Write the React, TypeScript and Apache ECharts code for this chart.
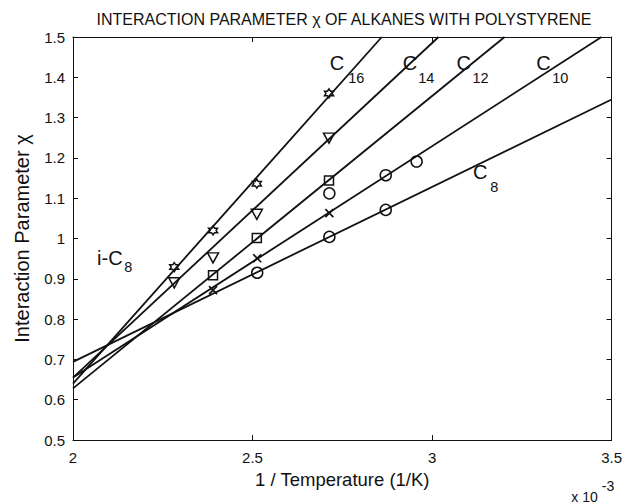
import React, { useEffect, useRef } from "react";
import * as echarts from "echarts";

// ---------- data ----------
// fitted straight lines (two end points each) [1/T x1e3, chi]
const c16Line = [[2.0, 0.640], [2.860, 1.5]];
const c14Line = [[2.0, 0.655], [3.018, 1.5]];
const c12Line = [[2.0, 0.628], [3.202, 1.5]];
const c10Line = [[2.0, 0.655], [3.472, 1.5]];
const c8Line = [[2.0, 0.694], [3.5, 1.345]];

// measured points
const starPts = [[2.282, 0.929], [2.390, 1.020], [2.512, 1.136], [2.713, 1.360]];
const trianglePts = [[2.282, 0.890], [2.390, 0.952], [2.512, 1.060], [2.713, 1.249]];
const squarePts = [[2.390, 0.909], [2.512, 1.001], [2.713, 1.144]];
const crossPts = [[2.390, 0.872], [2.513, 0.951], [2.714, 1.063]];
const c10CirclePts = [[2.871, 1.157], [2.957, 1.191], [2.714, 1.112]];
const c8CirclePts = [[2.513, 0.915], [2.714, 1.004], [2.871, 1.071]];

// curve labels
const curveLabels = ["C", "C", "C", "C", "C", "i-C"];
const curveLabelAt = [[2.735, 1.436], [2.9385, 1.436], [3.088, 1.436], [3.31, 1.436], [3.134, 1.164], [2.1026, 0.952]];
const curveSubs = ["16", "14", "12", "10", "8", "8"];
const curveSubAt = [[2.789, 1.398], [2.984, 1.398], [3.135, 1.398], [3.357, 1.398], [3.173, 1.128], [2.154, 0.929]];

const xMin = 2, xMax = 3.5, xStep = 0.5;
const yMin = 0.5, yMax = 1.5, yStep = 0.1;

const titleText = "INTERACTION PARAMETER \u03c7 OF ALKANES WITH POLYSTYRENE";
const xName = "1 / Temperature (1/K)";
const yName = "Interaction Parameter \u03c7";

// ---------- styles ----------
const INK = "#111111";
const FONT = "'Liberation Sans', Arial, Helvetica, sans-serif";

const HEX = "path://M0,-10 L2.9,-5 L8.66,-5 L5.77,0 L8.66,5 L2.9,5 L0,10 L-2.9,5 L-8.66,5 L-5.77,0 L-8.66,-5 L-2.9,-5 Z";
const TRI_DOWN = "path://M-10,-8 L10,-8 L0,9 Z";
const CROSS = "path://M0,0 L10,10 M10,0 L0,10";

export default function App() {
  const ref = useRef<HTMLDivElement>(null);
  useEffect(() => {
    if (!ref.current) return;
    const chart = echarts.init(ref.current, undefined, { renderer: "svg" });
    const lineSeries = [c16Line, c14Line, c12Line, c10Line, c8Line].map((d, i) => ({
      type: "line",
      name: "fit" + i,
      data: d,
      symbol: "none",
      lineStyle: { color: INK, width: 1.8, opacity: 1 },
      z: 2,
      silent: true,
    }));
    const marker = (data: number[][], symbol: string, size: number | number[], bw = 1.5) => ({
      type: "scatter",
      data,
      symbol,
      symbolSize: size,
      itemStyle: { color: "rgba(255,255,255,0)", borderColor: INK, borderWidth: bw, opacity: 1 },
      z: 3,
      silent: true,
    });
    const labelSeries = (names: string[], pos: number[][], size: number) => ({
      type: "scatter",
      data: names.map((n, i) => ({ name: n, value: pos[i] })),
      symbolSize: 1,
      itemStyle: { color: "rgba(255,255,255,0)", opacity: 1 },
      label: {
        show: true,
        position: "inside",
        formatter: (p: any) => p.name,
        color: INK,
        opacity: 1,
        textBorderWidth: 0,
        fontFamily: FONT,
        fontSize: size,
        align: "center",
        verticalAlign: "middle",
      },
      z: 4,
      silent: true,
    });
    const axisCommon = {
      type: "value",
      axisLine: { show: true, lineStyle: { color: INK, width: 1 } },
      axisTick: { show: true, inside: true, length: 5, lineStyle: { color: INK, width: 1 } },
      splitLine: { show: false },
    };
    chart.setOption({
      animation: false,
      backgroundColor: "#fff",
      textStyle: { fontFamily: FONT },
      grid: { left: 73, right: 11, top: 37, bottom: 64, containLabel: false },
      xAxis: [
        {
          ...axisCommon,
          min: xMin, max: xMax, interval: xStep,
          position: "bottom",
          axisLabel: { color: INK, fontSize: 15, margin: 10, fontFamily: FONT },
          name: xName,
          nameLocation: "middle",
          nameGap: 24,
          nameTextStyle: { color: INK, fontSize: 18.5, fontFamily: FONT },
        },
        {
          ...axisCommon,
          min: xMin, max: xMax, interval: xStep,
          position: "top",
          axisLabel: { show: false },
        },
      ],
      yAxis: [
        {
          ...axisCommon,
          min: yMin, max: yMax, interval: yStep,
          position: "left",
          axisLabel: { color: INK, fontSize: 15, margin: 8, fontFamily: FONT },
          name: yName,
          nameLocation: "middle",
          nameGap: 41,
          nameTextStyle: { color: INK, fontSize: 20, fontFamily: FONT },
        },
        {
          ...axisCommon,
          min: yMin, max: yMax, interval: yStep,
          position: "right",
          axisLabel: { show: false },
        },
      ],
      graphic: [
        {
          type: "text",
          x: 344,
          y: 19,
          style: { text: titleText, fill: INK, fontSize: 16, fontFamily: FONT, textAlign: "center", textVerticalAlign: "middle" },
        },
        {
          type: "text",
          x: 584.5,
          y: 497,
          style: { text: "x 10", fill: INK, fontSize: 14, fontFamily: FONT, textAlign: "center", textVerticalAlign: "middle" },
        },
        {
          type: "text",
          x: 608,
          y: 486,
          style: { text: "-3", fill: INK, fontSize: 14, fontFamily: FONT, textAlign: "center", textVerticalAlign: "middle" },
        },
      ],
      series: [
        ...lineSeries,
        marker(starPts, HEX, 9, 1.5),
        marker(trianglePts, TRI_DOWN, [11, 10]),
        marker(squarePts, "rect", 9),
        marker(crossPts, CROSS, 8, 1.7),
        marker(c10CirclePts, "circle", 11),
        marker(c8CirclePts, "circle", 11),
        labelSeries(curveLabels, curveLabelAt, 20),
        labelSeries(curveSubs, curveSubAt, 14.5),
      ],
    });
    return () => chart.dispose();
  }, []);
  return (
    <div
      ref={ref}
      style={{ position: "fixed", left: 0, top: 0, width: 625, height: 504, background: "#fff" }}
    />
  );
}
